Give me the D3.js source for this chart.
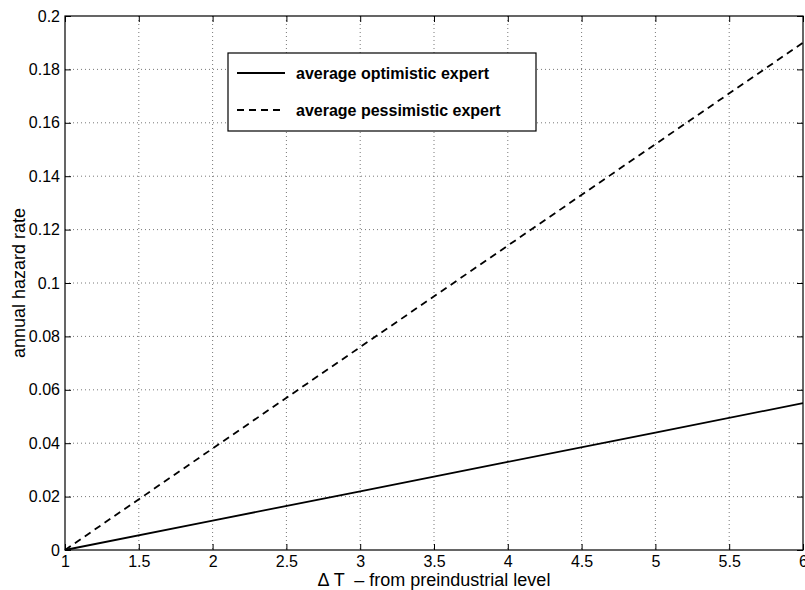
<!DOCTYPE html>
<html>
<head>
<meta charset="utf-8">
<script src="https://cdn.jsdelivr.net/npm/d3@7"></script>
<style>
  body { margin: 0; background: #fff; }
  text { font-family: "Liberation Sans", Arial, Helvetica, sans-serif; }
</style>
</head>
<body>
<div id="chart"></div>
<script>
// data
var temps = [1, 2, 3, 4, 5, 6];
var optimistic = [0, 0.011, 0.022, 0.033, 0.044, 0.055];
var pessimistic = [0, 0.038, 0.076, 0.114, 0.152, 0.19];
var xTicks = [1, 1.5, 2, 2.5, 3, 3.5, 4, 4.5, 5, 5.5, 6];
var yTicks = [0, 0.02, 0.04, 0.06, 0.08, 0.1, 0.12, 0.14, 0.16, 0.18, 0.2];
var seriesNames = ["average optimistic expert", "average pessimistic expert"];

const width = 805, height = 590;
const margin = {top: 16, right: 2, bottom: 40, left: 65};

var svg = d3.select("#chart").append("svg")
    .attr("width", width)
    .attr("height", height);

var x_scale = d3.scaleLinear()
    .domain([1, 6])
    .range([margin.left, width - margin.right]);

var y_scale = d3.scaleLinear()
    .domain([0, 0.2])
    .range([height - margin.bottom, margin.top]);

// dotted grid
svg.append("g")
    .selectAll("line")
    .data(xTicks.slice(1, -1))
    .enter().append("line")
    .attr("x1", d => x_scale(d)).attr("x2", d => x_scale(d))
    .attr("y1", margin.top).attr("y2", height - margin.bottom)
    .attr("stroke", "#555").attr("stroke-width", 0.8)
    .attr("stroke-dasharray", "1,3");

svg.append("g")
    .selectAll("line")
    .data(yTicks.slice(1, -1))
    .enter().append("line")
    .attr("y1", d => y_scale(d)).attr("y2", d => y_scale(d))
    .attr("x1", margin.left).attr("x2", width - margin.right)
    .attr("stroke", "#555").attr("stroke-width", 0.8)
    .attr("stroke-dasharray", "1,3");

// axes, ticks inside on all four sides
function styleAxis(g) {
    g.select(".domain").remove();
    g.selectAll("line").attr("stroke", "#000");
    g.selectAll("text").style("font-size", "16px").attr("fill", "#000");
}

svg.append("g")
    .attr("transform", "translate(0," + (height - margin.bottom) + ")")
    .call(d3.axisBottom(x_scale).tickValues(xTicks).tickSizeInner(-6).tickPadding(6).tickFormat(d3.format("")))
    .call(styleAxis);

svg.append("g")
    .attr("transform", "translate(0," + margin.top + ")")
    .call(d3.axisTop(x_scale).tickValues(xTicks).tickSizeInner(-6).tickFormat(""))
    .call(styleAxis);

svg.append("g")
    .attr("transform", "translate(" + margin.left + ",0)")
    .call(d3.axisLeft(y_scale).tickValues(yTicks).tickSizeInner(-6).tickPadding(5).tickFormat(d3.format("")))
    .call(styleAxis);

svg.append("g")
    .attr("transform", "translate(" + (width - margin.right) + ",0)")
    .call(d3.axisRight(y_scale).tickValues(yTicks).tickSizeInner(-6).tickFormat(""))
    .call(styleAxis);

svg.append("rect")
    .attr("x", margin.left).attr("y", margin.top)
    .attr("width", width - margin.right - margin.left)
    .attr("height", height - margin.bottom - margin.top)
    .attr("fill", "none").attr("stroke", "#000").attr("stroke-width", 1.2);

// lines
var line = d3.line()
    .x((d, i) => x_scale(temps[i]))
    .y(d => y_scale(d));

svg.append("path")
    .datum(optimistic)
    .attr("d", line)
    .attr("fill", "none").attr("stroke", "#000").attr("stroke-width", 1.8);

svg.append("path")
    .datum(pessimistic)
    .attr("d", line)
    .attr("fill", "none").attr("stroke", "#000").attr("stroke-width", 1.8)
    .attr("stroke-dasharray", "7,5");

// legend
svg.append("rect")
    .attr("x", 228).attr("y", 53).attr("width", 308).attr("height", 78)
    .attr("fill", "#fff").attr("stroke", "#000").attr("stroke-width", 1.2);

var dashes = [null, "7,5"];
seriesNames.forEach(function (name, i) {
    var ly = 73 + i * 37;
    svg.append("line")
        .attr("x1", 237).attr("x2", 285).attr("y1", ly).attr("y2", ly)
        .attr("stroke", "#000").attr("stroke-width", 1.8)
        .attr("stroke-dasharray", dashes[i]);
    svg.append("text")
        .attr("x", 296).attr("y", ly)
        .attr("dy", "0.35em")
        .style("font-size", "16px").style("font-weight", "bold")
        .text(name);
});

// axis titles
svg.append("text")
    .attr("x", x_scale(3.5)).attr("y", 586)
    .attr("text-anchor", "middle")
    .style("font-size", "18px")
    .style("white-space", "pre")
    .text("\u0394 T  \u2013 from preindustrial level");

svg.append("text")
    .attr("transform", "translate(25," + y_scale(0.1) + ") rotate(-90)")
    .attr("text-anchor", "middle")
    .style("font-size", "18px")
    .text("annual hazard rate");
</script>
</body>
</html>
